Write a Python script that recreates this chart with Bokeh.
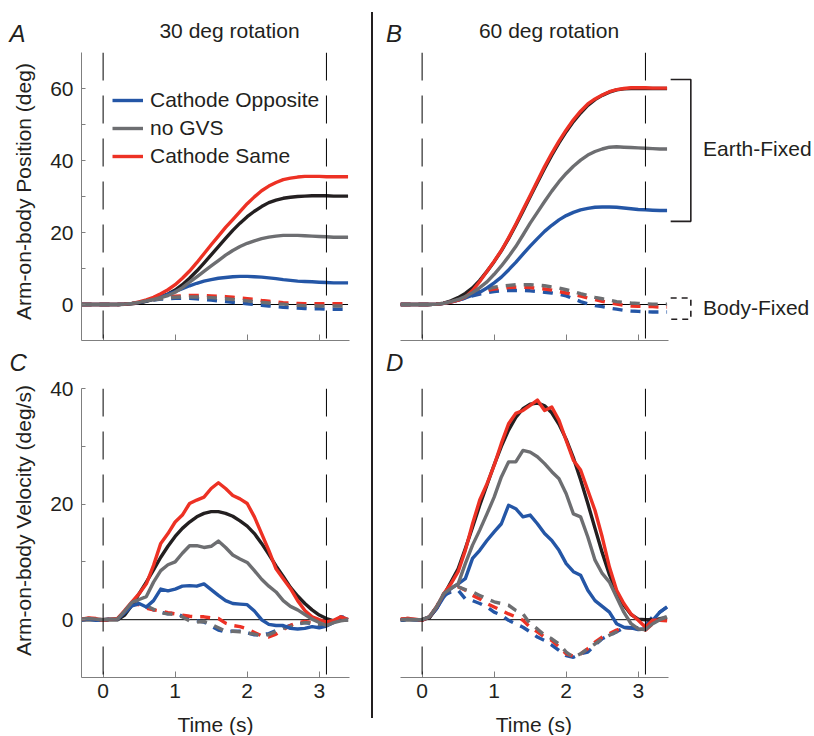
from math import pi
from bokeh.plotting import figure
from bokeh.models import Range1d, FixedTicker, Span, Label, Legend, LegendItem, Div, Spacer
from bokeh.layouts import row, column
from bokeh.embed import file_html
from bokeh.resources import INLINE

# ---------------- data ----------------
TIME = [-0.3, -0.2, -0.1, 0.0, 0.1, 0.2, 0.3, 0.4, 0.5, 0.6, 0.7, 0.8, 0.9, 1.0,
        1.1, 1.2, 1.3, 1.4, 1.5, 1.6, 1.7, 1.8, 1.9, 2.0, 2.1, 2.2, 2.3, 2.4, 2.5,
        2.6, 2.7, 2.8, 2.9, 3.0, 3.1, 3.2, 3.3, 3.4]
ONSET, OFFSET = 0.0, 3.1
X_TICKS = [0, 1, 2, 3]
POS_TICKS, POS_MINOR = [0, 20, 40, 60], [10, 30, 50]
VEL_TICKS, VEL_MINOR = [0, 20, 40], [10, 30]
SERIES = ["Cathode Opposite", "no GVS", "Cathode Same"]
TITLES = ["30 deg rotation", "60 deg rotation"]
PANELS = ["A", "B", "C", "D"]
Y_LABELS = ["Arm-on-body Position (deg)", "Arm-on-body Velocity (deg/s)"]
X_LABEL = "Time (s)"
FRAMES = ["Earth-Fixed", "Body-Fixed"]

# Panel A: position, 30 deg rotation
A_target = [0, 0, 0, 0, 0, 0, 0.05, 0.2, 0.5, 0.9, 1.5, 2.2, 2.9, 4.0,
            5.5, 7.3, 9.3, 11.5, 13.8, 16.1, 18.4, 20.6, 22.6, 24.4,
            25.9, 27.2, 28.3, 29.0, 29.5, 29.8, 30.0, 30.1, 30.2, 30.2,
            30.2, 30.1, 30.1, 30.1]
A_same = [0, 0, 0, 0, 0, 0, 0.1, 0.3, 0.7, 1.3, 2.0, 3.0, 4.1, 5.5,
          7.3, 9.3, 11.6, 14.1, 16.6, 19.0, 21.4, 23.6, 25.8, 28.0,
          29.9, 31.6, 32.9, 33.9, 34.7, 35.1, 35.4, 35.6, 35.6, 35.6,
          35.5, 35.5, 35.5, 35.5]
A_nogvs = [0, 0, 0, 0, 0, 0, 0.1, 0.3, 0.6, 1.0, 1.4, 1.9, 2.5, 3.4,
           4.7, 6.2, 7.7, 9.2, 10.7, 12.2, 13.7, 15.0, 16.1, 17.0,
           17.7, 18.3, 18.7, 19.0, 19.2, 19.2, 19.2, 19.1, 19.0, 18.9,
           18.8, 18.7, 18.7, 18.7]
A_opp = [0, 0, 0, 0, 0, 0, 0.1, 0.3, 0.6, 1.0, 1.5, 2.1, 2.8, 3.6,
         4.4, 5.2, 5.9, 6.5, 6.9, 7.3, 7.5, 7.7, 7.8, 7.8,
         7.7, 7.6, 7.4, 7.2, 6.9, 6.7, 6.5, 6.4, 6.3, 6.2,
         6.1, 6.0, 6.0, 6.0]
A_same_bf = [0, 0, 0, 0, 0, 0, 0.1, 0.3, 0.6, 1.0, 1.4, 1.8, 2.1, 2.3,
             2.4, 2.5, 2.5, 2.5, 2.4, 2.3, 2.2, 2.0, 1.8, 1.6,
             1.4, 1.1, 0.9, 0.7, 0.5, 0.4, 0.3, 0.2, 0.2, 0.2,
             0.2, 0.2, 0.2, 0.2]
A_nogvs_bf = [0, 0, 0, 0, 0, 0, 0.1, 0.3, 0.6, 0.9, 1.3, 1.6, 1.9, 2.0,
              2.1, 2.1, 2.1, 2.0, 1.9, 1.8, 1.6, 1.4, 1.2, 1.0,
              0.8, 0.6, 0.4, 0.2, 0.1, -0.1, -0.2, -0.3, -0.3, -0.4,
              -0.4, -0.4, -0.4, -0.4]
A_opp_bf = [0, 0, 0, 0, 0, 0, 0.1, 0.3, 0.6, 0.9, 1.2, 1.5, 1.6, 1.7,
            1.7, 1.7, 1.6, 1.4, 1.2, 1.0, 0.8, 0.6, 0.4, 0.2,
            0.0, -0.2, -0.4, -0.6, -0.8, -0.9, -1.0, -1.1, -1.2, -1.2,
            -1.3, -1.3, -1.3, -1.3]

# Panel B: position, 60 deg rotation
B_target = [0, 0, 0, 0, 0, 0.1, 0.4, 1.0, 1.9, 3.1, 4.6, 6.7, 9.2, 11.9,
            14.9, 18.3, 22.0, 25.9, 29.9, 33.9, 37.8, 41.5, 44.9, 48.0,
            50.8, 53.2, 55.3, 56.9, 58.1, 59.0, 59.6, 59.9, 60.0, 60.0,
            60.0, 60.0, 60.0, 60.0]
B_same = [0, 0, 0, 0, 0, 0.1, 0.3, 0.7, 1.2, 2.1, 3.9, 6.4, 9.2, 12.0,
          15.0, 18.5, 22.3, 26.3, 30.3, 34.3, 38.3, 42.0, 45.4, 48.5,
          51.3, 53.7, 55.7, 57.1, 58.2, 59.1, 59.7, 60.0, 60.2, 60.2,
          60.2, 60.1, 60.1, 60.1]
B_nogvs = [0, 0, 0, 0, 0, 0.1, 0.3, 0.8, 1.4, 2.2, 3.3, 4.7, 6.3, 8.4,
           10.7, 13.3, 16.1, 19.3, 22.6, 25.6, 28.6, 31.5, 34.1, 36.4,
           38.4, 40.1, 41.5, 42.5, 43.2, 43.7, 43.8, 43.7, 43.6, 43.5,
           43.4, 43.3, 43.2, 43.2]
B_opp = [0, 0, 0, 0, 0, 0.1, 0.3, 0.7, 1.2, 1.8, 2.6, 3.4, 4.6, 6.0,
         7.6, 9.6, 11.7, 14.0, 16.2, 18.3, 20.3, 22.0, 23.5, 24.7,
         25.6, 26.3, 26.7, 27.0, 27.1, 27.1, 27.0, 26.8, 26.6, 26.4,
         26.3, 26.2, 26.1, 26.1]
B_same_bf = [0, 0, 0, 0, 0, 0.1, 0.3, 0.8, 1.4, 2.1, 2.8, 3.4, 3.9, 4.3,
             4.5, 4.7, 4.8, 4.8, 4.7, 4.5, 4.3, 4.0, 3.6, 3.2,
             2.8, 2.3, 1.8, 1.4, 0.9, 0.5, 0.1, -0.2, -0.4, -0.5,
             -0.6, -0.6, -0.7, -0.7]
B_nogvs_bf = [0, 0, 0, 0, 0, 0.1, 0.3, 0.8, 1.4, 2.2, 3.0, 3.7, 4.3, 4.8,
              5.1, 5.3, 5.5, 5.5, 5.5, 5.4, 5.2, 4.9, 4.6, 4.1,
              3.6, 3.0, 2.5, 2.0, 1.6, 1.2, 0.8, 0.6, 0.4, 0.3,
              0.2, 0.1, 0.1, 0.1]
B_opp_bf = [0, 0, 0, 0, 0, 0.1, 0.3, 0.7, 1.2, 1.8, 2.4, 2.9, 3.3, 3.6,
            3.8, 3.9, 3.9, 3.9, 3.8, 3.6, 3.4, 3.2, 2.9, 2.4,
            1.6, 0.8, 0.2, -0.3, -0.6, -1.0, -1.3, -1.6, -1.8, -1.9,
            -2.0, -2.1, -2.1, -2.1]

# Panel C: velocity, 30 deg rotation
C_target = [0, 0, 0, 0, 0, 0, 0.8, 2.5, 4.5, 6.5, 8.6, 10.8, 12.7, 14.4,
            15.8, 16.9, 17.8, 18.4, 18.7, 18.7, 18.4, 17.9, 17.1, 16.2,
            14.9, 13.2, 11.3, 9.3, 7.5, 5.6, 4.1, 2.8, 1.7, 0.8,
            0.2, -0.2, -0.1, 0]
C_same = [0.1, 0.3, 0.2, -0.1, 0.1, 0.2, 1.6, 3.1, 4.5, 6.2, 9.4, 13.2, 14.9, 16.9,
          18.1, 20.1, 20.7, 21.2, 22.7, 23.7, 22.7, 21.5, 20.9, 20.1,
          17.8, 14.9, 12.0, 8.8, 7.1, 5.4, 3.3, 1.6, 0.5, 0.0,
          -0.4, -0.1, 0.5, 0.0]
C_nogvs = [0.1, 0.2, 0.1, 0.0, 0.1, 0.1, 1.5, 3.0, 3.5, 4.0, 6.5, 8.5, 9.5, 10.0,
           11.5, 12.8, 12.8, 12.5, 12.7, 13.6, 12.5, 11.2, 10.5, 9.9,
           8.5, 7.0, 5.8, 4.8, 3.3, 2.3, 1.7, 0.9, 0.1, -0.5,
           -1.0, -0.5, -0.2, 0.0]
C_opp = [0.0, 0.1, -0.1, 0.0, 0.1, 0.1, 1.2, 2.4, 2.8, 2.2, 3.3, 5.3, 5.0, 5.3,
         5.8, 5.9, 5.8, 6.2, 5.2, 4.2, 3.3, 2.8, 2.7, 2.6,
         1.5, 0.0, -0.8, -1.0, -1.0, -1.5, -1.6, -1.5, -1.2, -1.4,
         -1.1, -0.5, 0.5, 0.0]
C_same_bf = [0.1, 0.2, 0.1, 0.0, 0.1, 0.2, 1.4, 2.6, 2.6, 2.0, 1.7, 1.5, 1.2, 1.0,
             0.8, 0.6, 0.5, 0.5, 0.3, 0.2, -0.6, -1.0, -1.2, -1.6,
             -2.2, -2.8, -3.0, -2.5, -1.7, -1.0, -0.5, -0.3, -0.5, -0.7,
             -1.0, -0.3, 0.3, 0.2]
C_nogvs_bf = [0.1, 0.1, 0.1, 0.0, 0.1, 0.1, 1.4, 2.8, 2.8, 2.4, 1.8, 1.2, 1.0, 0.9,
              0.5, -0.2, -0.4, -0.3, -0.8, -1.4, -2.0, -2.0, -2.1, -2.3,
              -2.5, -2.8, -2.6, -2.0, -1.5, -1.2, -0.8, -0.5, -0.6, -0.8,
              -1.0, -0.5, 0.2, 0.0]
C_opp_bf = [0.0, 0.1, 0.0, -0.1, 0.1, 0.1, 1.2, 2.6, 3.0, 2.2, 1.7, 1.3, 1.0, 1.2,
            0.6, 0.1, -0.2, -0.4, -1.1, -1.8, -2.1, -2.0, -2.0, -2.3,
            -2.6, -2.6, -2.4, -1.9, -1.4, -1.0, -0.7, -0.5, -0.7, -1.0,
            -0.8, -0.3, 0.5, 0.3]

# Panel D: velocity, 60 deg rotation
D_target = [0, 0, 0, 0, 0.3, 2.0, 4.2, 6.5, 8.8, 12.3, 16.0, 19.8, 23.3, 26.8,
            30.0, 32.8, 35.0, 36.5, 37.3, 37.5, 37.0, 35.8, 33.8, 31.2,
            28.0, 24.2, 20.1, 15.8, 11.6, 7.8, 4.8, 2.5, 0.9, 0.1,
            0.0, 0.0, 0.1, 0.0]
D_same = [0.1, 0.2, 0.1, -0.1, 0.5, 2.2, 4.5, 6.2, 8.3, 12.0, 16.6, 20.7, 23.5, 26.7,
          30.5, 33.9, 35.7, 36.2, 37.1, 38.0, 36.2, 36.8, 34.5, 31.0,
          27.6, 25.9, 22.4, 18.9, 14.3, 9.1, 5.1, 2.8, 1.0, -0.1,
          -1.3, -0.1, -0.1, -0.2]
D_nogvs = [0.0, 0.1, 0.0, 0.0, 0.5, 2.2, 4.5, 5.4, 6.2, 9.7, 12.9, 15.5, 18.3, 21.2,
           24.7, 27.3, 27.3, 29.3, 29.0, 28.2, 27.0, 25.6, 24.4, 21.8,
           18.3, 17.8, 14.3, 10.3, 8.0, 6.5, 3.9, 1.3, -0.7, -1.6,
           -1.7, -0.7, 0.0, 0.5]
D_opp = [-0.1, 0.1, 0.0, -0.1, 0.5, 1.9, 3.9, 5.4, 6.2, 7.1, 10.6, 12.0, 13.7, 15.2,
         16.6, 19.8, 19.2, 17.8, 18.1, 16.6, 14.9, 13.7, 12.0, 9.7,
         8.3, 7.7, 5.1, 3.3, 2.3, 1.3, -0.7, -1.3, -1.4, -1.7,
         -1.6, -0.1, 1.3, 2.2]
D_same_bf = [0.1, 0.2, 0.1, -0.1, 0.5, 2.2, 4.5, 5.1, 5.7, 5.1, 4.2, 3.6, 2.8, 2.2,
             1.6, 1.0, 0.5, -0.1, -1.3, -2.1, -3.0, -3.6, -4.7, -5.9,
             -6.3, -5.9, -5.0, -3.9, -3.0, -2.4, -1.8, -1.4, -1.4, -1.6,
             -1.8, -0.7, -0.1, 0.0]
D_nogvs_bf = [0.0, 0.1, 0.0, 0.0, 0.5, 2.2, 4.5, 5.1, 5.7, 5.2, 4.8, 4.2, 3.6, 3.1,
              2.8, 2.5, 1.6, 1.0, -0.7, -1.6, -2.7, -3.3, -4.2, -5.6,
              -6.5, -5.9, -5.0, -4.2, -3.3, -2.7, -2.1, -1.4, -1.4, -1.6,
              -1.7, -0.4, 0.2, 0.5]
D_opp_bf = [-0.1, 0.1, 0.0, -0.1, 0.5, 1.9, 4.2, 4.8, 5.1, 3.6, 3.3, 2.8, 2.2, 1.3,
            0.8, -0.1, -0.7, -1.3, -2.1, -3.0, -3.6, -4.4, -5.3, -6.2,
            -6.5, -5.9, -5.6, -4.4, -3.3, -2.7, -2.1, -1.4, -1.4, -1.4,
            -1.0, 0.5, 1.3, 2.2]

# ---------------- style ----------------
FONT = "Liberation Sans"
INK = "#231f20"
AXIS = "#7f7f7f"
C_OPP, C_NOG, C_SAME, C_TGT = "#2456a6", "#6d6e71", "#ed3124", "#231f20"
LW = 3.4
DASH = "10 8"
FS = "21px"
LETTER_FS = "24px"

X_LEFT = -0.3
X_RIGHT = 3.42
PX_PER_S = 268 / (X_RIGHT - X_LEFT)
X_WIDE = X_LEFT + 412 / PX_PER_S


def base_fig(width, height, **kw):
    p = figure(width=width, height=height, output_backend="svg", toolbar_location=None,
               frame_align=False, **kw)
    p.outline_line_color = None
    p.background_fill_color = "white"
    p.border_fill_color = "white"
    return p


def make_fig(width, height, bl, br, bt, bb, x_end, y_rng):
    p = base_fig(width, height, x_range=Range1d(X_LEFT, x_end), y_range=Range1d(*y_rng),
                 min_border_left=bl, min_border_right=br, min_border_top=bt,
                 min_border_bottom=bb)
    p.xgrid.visible = False
    p.ygrid.visible = False
    for ax in (p.xaxis[0], p.yaxis[0]):
        ax.axis_line_color = AXIS
        ax.axis_line_width = 1
        ax.major_tick_line_color = AXIS
        ax.minor_tick_line_color = AXIS
        ax.major_tick_out = 0
        ax.minor_tick_out = 0
        ax.major_label_text_font = FONT
        ax.major_label_text_font_size = FS
        ax.major_label_text_color = INK
    p.xaxis[0].major_tick_in = 6
    p.xaxis[0].minor_tick_in = 6
    p.yaxis[0].major_tick_in = 4
    p.yaxis[0].minor_tick_in = 4
    p.yaxis[0].major_label_standoff = 8
    p.xaxis[0].major_label_standoff = 6
    p.line([TIME[0], TIME[-1]], [0, 0], line_color="black", line_width=1)
    for loc in (ONSET, OFFSET):
        p.add_layout(Span(location=loc, dimension="height", line_color="black",
                          line_width=1, line_dash="28 15"))
    return p


def strip(width, height):
    s = base_fig(width, height, x_range=Range1d(0, width), y_range=Range1d(0, height),
                 x_axis_type=None, y_axis_type=None, min_border_left=0, min_border_right=0,
                 min_border_top=0, min_border_bottom=0)
    s.grid.visible = False
    return s


def draw(p, target, opp, nog, same, opp_bf, nog_bf, same_bf):
    for ys, col in ((opp_bf, C_OPP), (same_bf, C_SAME), (nog_bf, C_NOG)):
        p.line(TIME, ys, line_color=col, line_width=LW, line_dash=DASH)
    p.line(TIME, target, line_color=C_TGT, line_width=LW, line_join="round")
    r_opp = p.line(TIME, opp, line_color=C_OPP, line_width=LW, line_join="round")
    r_same = p.line(TIME, same, line_color=C_SAME, line_width=LW, line_join="round")
    r_nog = p.line(TIME, nog, line_color=C_NOG, line_width=LW, line_join="round")
    return r_opp, r_nog, r_same


def text_label(p, x, y, txt, size=FS, style="normal", align="left", angle=0.0):
    p.add_layout(Label(x=x, y=y, x_units="data", y_units="data", text=txt, text_font=FONT,
                       text_font_size=size, text_font_style=style, text_color=INK,
                       text_align=align, text_baseline="middle", angle=angle))


H_TOTAL = 735
TOP_H, ROW1_H, GAP_H, ROW2_H, BOT_H = 52, 290, 34, 333, 26

# ---------------- left column ----------------
sY = strip(46, H_TOTAL)
text_label(sY, 9, H_TOTAL - 33.1, PANELS[0], size=LETTER_FS, style="italic")
text_label(sY, 9, H_TOTAL - 362.2, PANELS[2], size=LETTER_FS, style="italic")
text_label(sY, 23, H_TOTAL - 191, Y_LABELS[0], align="center", angle=pi / 2)
text_label(sY, 23, H_TOTAL - 520, Y_LABELS[1], align="center", angle=pi / 2)

sTL = strip(325, TOP_H)
text_label(sTL, 183, TOP_H - 29.8, TITLES[0], align="center")

pA = make_fig(325, ROW1_H, 35, 22, 0, 2, X_RIGHT, (-10, 70))
pA.xaxis[0].ticker = FixedTicker(ticks=[], minor_ticks=X_TICKS)
pA.yaxis[0].ticker = FixedTicker(ticks=POS_TICKS, minor_ticks=POS_MINOR)
rA = draw(pA, A_target, A_opp, A_nogvs, A_same, A_opp_bf, A_nogvs_bf, A_same_bf)
legend = Legend(items=[LegendItem(label=SERIES[i], renderers=[rA[i]]) for i in range(3)],
                location=(31, 172), padding=0, margin=0, spacing=4, label_height=24,
                glyph_height=24, glyph_width=31, label_standoff=7, border_line_color=None,
                background_fill_alpha=0, label_text_font=FONT, label_text_font_size=FS,
                label_text_color=INK)
pA.add_layout(legend)

pC = make_fig(325, ROW2_H, 35, 22, 12, 32, X_RIGHT, (-10, 40))
pC.xaxis[0].ticker = FixedTicker(ticks=X_TICKS)
pC.yaxis[0].ticker = FixedTicker(ticks=VEL_TICKS, minor_ticks=VEL_MINOR)
draw(pC, C_target, C_opp, C_nogvs, C_same, C_opp_bf, C_nogvs_bf, C_same_bf)

sBL = strip(325, BOT_H)
text_label(sBL, 169, BOT_H - (723.5 - 709), X_LABEL, align="center")

left = row(sY, column(sTL, pA, Spacer(width=325, height=GAP_H, margin=0), pC, sBL))

# ---------------- right column ----------------
sTR = strip(439, TOP_H)
text_label(sTR, 12.5, TOP_H - 33.2, PANELS[1], size=LETTER_FS, style="italic")
text_label(sTR, 175.5, TOP_H - 29.8, TITLES[1], align="center")

pB = make_fig(439, ROW1_H, 27, 0, 0, 2, X_WIDE, (-10, 70))
pB.xaxis[0].ticker = FixedTicker(ticks=[], minor_ticks=X_TICKS)
pB.xaxis[0].bounds = (X_LEFT, X_RIGHT)
pB.yaxis[0].visible = False
draw(pB, B_target, B_opp, B_nogvs, B_same, B_opp_bf, B_nogvs_bf, B_same_bf)
bx0, bx1, tx = 3.45, 3.73, 3.9
ef_top = max(B_same[-1], B_target[-1]) + 2.4
ef_bot = B_opp[-1] - 3.0
pB.line([bx0, bx1, bx1, bx0], [ef_top, ef_top, ef_bot, ef_bot], line_color=INK, line_width=1.6)
bf_top = max(B_same_bf[-1], B_nogvs_bf[-1], B_opp_bf[-1]) + 1.7
bf_bot = min(B_same_bf[-1], B_nogvs_bf[-1], B_opp_bf[-1]) - 2.0
pB.line([bx0, bx1, bx1, bx0], [bf_top, bf_top, bf_bot, bf_bot], line_color=INK,
        line_width=1.6, line_dash="6 5")
text_label(pB, tx, (ef_top + ef_bot) / 2 + 0.5, FRAMES[0])
text_label(pB, tx, (bf_top + bf_bot) / 2 + 0.4, FRAMES[1])

sMR = strip(439, GAP_H)
text_label(sMR, 12.5, GAP_H - (362.2 - 342), PANELS[3], size=LETTER_FS, style="italic")

pD = make_fig(439, ROW2_H, 27, 144, 12, 32, X_RIGHT, (-10, 40))
pD.xaxis[0].ticker = FixedTicker(ticks=X_TICKS)
pD.yaxis[0].visible = False
draw(pD, D_target, D_opp, D_nogvs, D_same, D_opp_bf, D_nogvs_bf, D_same_bf)

sBR = strip(439, BOT_H)
text_label(sBR, 160.3, BOT_H - (723.5 - 709), X_LABEL, align="center")

right = column(sTR, pB, sMR, pD, sBR)

# ---------------- separator & layout ----------------
sep = column(Spacer(width=2, height=12, margin=0),
             Div(text="", width=2, height=706, margin=0, styles={"background-color": INK}),
             Spacer(width=2, height=17, margin=0))
layout = row(left, sep, right)

open("out.html", "w").write(file_html(layout, INLINE))
